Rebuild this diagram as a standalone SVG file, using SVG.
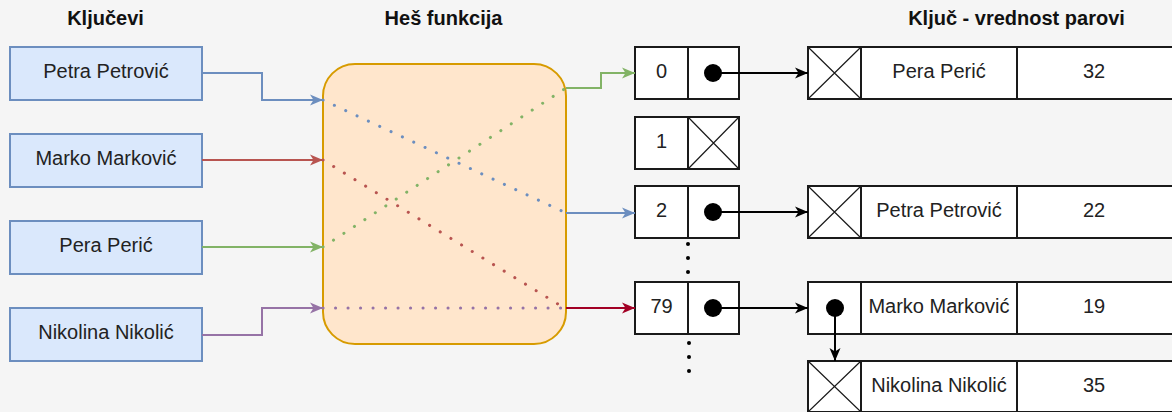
<svg xmlns="http://www.w3.org/2000/svg" width="1172" height="412" viewBox="0 0 1172 412">
<style>
text{font-family:"Liberation Sans",Arial,Helvetica,sans-serif;font-size:20px;fill:#222;text-anchor:middle}
.title{font-weight:bold;fill:#111}
.key{fill:#dae8fc;stroke:#6c8ebf;stroke-width:2}
.cell{fill:#fff;stroke:#1a1a1a;stroke-width:2}
.x{stroke:#1a1a1a;stroke-width:1.2}
.dot{fill:#000}
.c{fill:none;stroke-width:2}
.dt{fill:none;stroke-width:3;stroke-linecap:round;stroke-dasharray:0.1 12.4}
</style>
<defs>
<marker id="aB" markerUnits="userSpaceOnUse" markerWidth="14" markerHeight="12" refX="13" refY="6" orient="auto"><path d="M0,0.5 L13,6 L0,11.5 L3.5,6z" fill="#6c8ebf"/></marker>
<marker id="aR" markerUnits="userSpaceOnUse" markerWidth="14" markerHeight="12" refX="13" refY="6" orient="auto"><path d="M0,0.5 L13,6 L0,11.5 L3.5,6z" fill="#b85450"/></marker>
<marker id="aG" markerUnits="userSpaceOnUse" markerWidth="14" markerHeight="12" refX="13" refY="6" orient="auto"><path d="M0,0.5 L13,6 L0,11.5 L3.5,6z" fill="#82b366"/></marker>
<marker id="aP" markerUnits="userSpaceOnUse" markerWidth="14" markerHeight="12" refX="13" refY="6" orient="auto"><path d="M0,0.5 L13,6 L0,11.5 L3.5,6z" fill="#9673a6"/></marker>
<marker id="aC" markerUnits="userSpaceOnUse" markerWidth="14" markerHeight="12" refX="13" refY="6" orient="auto"><path d="M0,0.5 L13,6 L0,11.5 L3.5,6z" fill="#a20025"/></marker>
<marker id="aK" markerUnits="userSpaceOnUse" markerWidth="14" markerHeight="12" refX="13" refY="6" orient="auto"><path d="M0,0.5 L13,6 L0,11.5 L3.5,6z" fill="#000"/></marker>
</defs>
<rect width="1172" height="412" fill="#f5f5f5"/>

<g id="titles">
<text class="title" x="105.5" y="25">Ključevi</text>
<text class="title" x="443.5" y="25">Heš funkcija</text>
<text class="title" x="1016.5" y="25">Ključ - vrednost parovi</text>
</g>

<g id="hash">
<rect x="323" y="64" width="243" height="280" rx="32" ry="32" fill="#ffe6cc" stroke="#d79b00" stroke-width="2"/>
</g>

<g id="key-petra"><rect class="key" x="10" y="47" width="192" height="53"/><text x="106" y="78">Petra Petrović</text></g>
<g id="key-marko"><rect class="key" x="10" y="134" width="192" height="53"/><text x="106" y="165">Marko Marković</text></g>
<g id="key-pera"><rect class="key" x="10" y="221" width="192" height="53"/><text x="106" y="252">Pera Perić</text></g>
<g id="key-nikolina"><rect class="key" x="10" y="308" width="192" height="53"/><text x="106" y="339">Nikolina Nikolić</text></g>

<g id="bucket-0">
<rect class="cell" x="635" y="47" width="53" height="52"/><rect class="cell" x="688" y="47" width="51" height="52"/>
<text x="661.5" y="78">0</text><circle class="dot" cx="713" cy="73" r="9"/>
</g>
<g id="bucket-1">
<rect class="cell" x="635" y="117" width="53" height="52"/><rect class="cell" x="688" y="117" width="51" height="52"/>
<path class="x" d="M688,117 L739,169 M739,117 L688,169"/>
<text x="661.5" y="148">1</text>
</g>
<g id="bucket-2">
<rect class="cell" x="635" y="186" width="53" height="52"/><rect class="cell" x="688" y="186" width="51" height="52"/>
<text x="661.5" y="217">2</text><circle class="dot" cx="713" cy="212" r="9"/>
</g>
<g id="bucket-79">
<rect class="cell" x="635" y="282" width="53" height="52"/><rect class="cell" x="688" y="282" width="51" height="52"/>
<text x="661.5" y="313">79</text><circle class="dot" cx="713" cy="308" r="9"/>
</g>
<g id="ellipsis">
<circle class="dot" cx="688" cy="244" r="2"/><circle class="dot" cx="688" cy="258" r="2"/><circle class="dot" cx="688" cy="272" r="2"/>
<circle class="dot" cx="689" cy="343" r="2"/><circle class="dot" cx="689" cy="357" r="2"/><circle class="dot" cx="689" cy="371" r="2"/>
</g>

<g id="record-pera">
<rect class="cell" x="808" y="47" width="53" height="52"/><path class="x" d="M808,47 L861,99 M861,47 L808,99"/>
<rect class="cell" x="861" y="47" width="156" height="52"/><rect class="cell" x="1017" y="47" width="160" height="52"/>
<text x="939" y="78">Pera Perić</text><text x="1094" y="78">32</text>
</g>
<g id="record-petra">
<rect class="cell" x="808" y="186" width="53" height="52"/><path class="x" d="M808,186 L861,238 M861,186 L808,238"/>
<rect class="cell" x="861" y="186" width="156" height="52"/><rect class="cell" x="1017" y="186" width="160" height="52"/>
<text x="939" y="217">Petra Petrović</text><text x="1094" y="217">22</text>
</g>
<g id="record-marko">
<rect class="cell" x="808" y="282" width="53" height="52"/>
<rect class="cell" x="861" y="282" width="156" height="52"/><rect class="cell" x="1017" y="282" width="160" height="52"/>
<circle class="dot" cx="835" cy="308" r="9"/>
<text x="939" y="313">Marko Marković</text><text x="1094" y="313">19</text>
</g>
<g id="record-nikolina">
<rect class="cell" x="808" y="361" width="53" height="51"/><path class="x" d="M808,361 L861,412 M861,361 L808,412"/>
<rect class="cell" x="861" y="361" width="156" height="51"/><rect class="cell" x="1017" y="361" width="160" height="51"/>
<text x="939" y="392">Nikolina Nikolić</text><text x="1094" y="392">35</text>
</g>

<g id="connectors">
<path class="c" stroke="#6c8ebf" d="M202,73 H262 V100 H323" marker-end="url(#aB)"/>
<path class="c" stroke="#b85450" d="M202,160 H323" marker-end="url(#aR)"/>
<path class="c" stroke="#82b366" d="M202,247 H323" marker-end="url(#aG)"/>
<path class="c" stroke="#9673a6" d="M202,335 H262 V308 H323" marker-end="url(#aP)"/>
<path class="dt" stroke="#6c8ebf" d="M323,100 L566,213"/>
<path class="dt" stroke="#b85450" d="M323,160 L566,309"/>
<path class="dt" stroke="#82b366" d="M323,247 L566,88"/>
<path class="dt" stroke="#9673a6" d="M323,308 L566,308"/>
<path class="c" stroke="#82b366" d="M566,88 H601 V73 H635" marker-end="url(#aG)"/>
<path class="c" stroke="#6c8ebf" d="M566,213 H635" marker-end="url(#aB)"/>
<path class="c" stroke="#a20025" d="M566,308 H635" marker-end="url(#aC)"/>
<path class="c" stroke="#000" d="M713,73 H808" marker-end="url(#aK)"/>
<path class="c" stroke="#000" d="M713,212 H808" marker-end="url(#aK)"/>
<path class="c" stroke="#000" d="M713,308 H808" marker-end="url(#aK)"/>
<path class="c" stroke="#000" d="M835,308 V361" marker-end="url(#aK)"/>
</g>
</svg>
